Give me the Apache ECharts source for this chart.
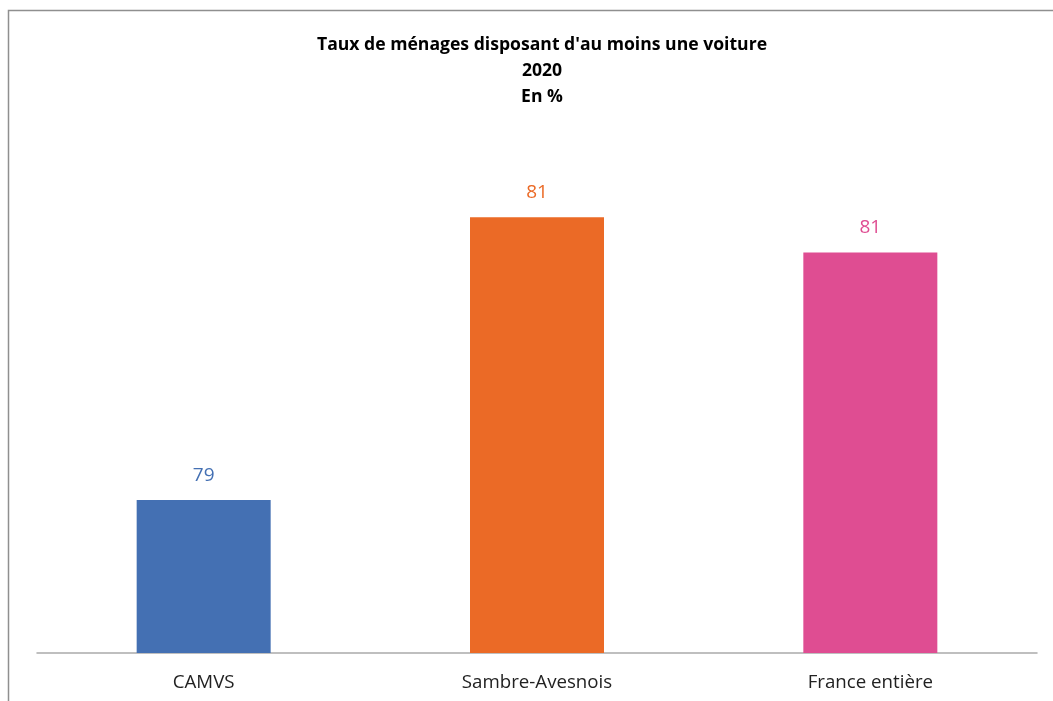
<!DOCTYPE html>
<html>
<head>
<meta charset="utf-8">
<script src="https://cdn.jsdelivr.net/npm/echarts@6/dist/echarts.min.js"></script>
<style>
  html, body { margin: 0; padding: 0; background: #fff; }
  #chart { width: 1053px; height: 701px; }
</style>
</head>
<body>
<div id="chart"></div>
<script>
// Household car ownership rate, 2020 (%)
const categories = ['CAMVS', 'Sambre-Avesnois', 'France entière'];
const values = [78.8, 81.2, 80.9];
const barColors = ['#4470B3', '#EB6A26', '#DF4D92'];
const titleLines = ["Taux de ménages disposant d'au moins une voiture", '2020', 'En %'];

const FONT = 'Open Sans';

const chart = echarts.init(document.getElementById('chart'), null, { renderer: 'canvas' });

chart.setOption({
  animation: false,
  backgroundColor: '#ffffff',
  title: {
    text: titleLines.join('\n'),
    left: 537,
    top: 27,
    textAlign: 'center',
    textStyle: {
      fontFamily: FONT,
      fontWeight: 'bold',
      fontSize: 17.6,
      lineHeight: 26,
      color: '#000000'
    }
  },
  grid: { left: 37, right: 16, top: 123, bottom: 48 },
  xAxis: {
    type: 'category',
    data: categories,
    axisLine: { lineStyle: { color: '#ABABAB', width: 1.5 } },
    axisTick: { show: false },
    axisLabel: {
      margin: 20,
      fontFamily: FONT,
      fontSize: 18.7,
      color: '#222222'
    }
  },
  yAxis: {
    type: 'value',
    min: 77.5,
    max: 82,
    show: false,
    splitLine: { show: false }
  },
  series: [{
    type: 'bar',
    barWidth: 134,
    data: values.map((v, i) => ({ value: v, itemStyle: { color: barColors[i] } })),
    label: {
      show: true,
      position: 'top',
      distance: 15,
      fontFamily: FONT,
      fontSize: 19,
      formatter: p => Math.round(p.value).toString(),
      color: 'inherit'
    }
  }],
  graphic: [{
    type: 'polyline',
    silent: true,
    shape: { points: [[8.5, 701], [8.5, 10.5], [1053, 10.5]] },
    style: { stroke: '#8F8F8F', lineWidth: 1.5, fill: null }
  }]
});
</script>
</body>
</html>
